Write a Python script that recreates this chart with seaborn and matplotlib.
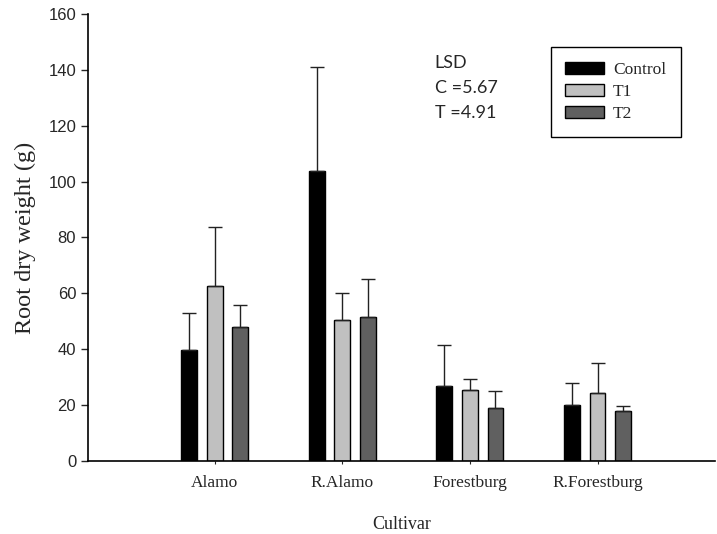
import numpy as np
import pandas as pd
import matplotlib
matplotlib.use('Agg')
import matplotlib.pyplot as plt
import seaborn as sns

# values
cultivars = ['Alamo', 'R.Alamo', 'Forestburg', 'R.Forestburg']
treatments = ['Control', 'T1', 'T2']
control_mean = [39.7, 103.8, 27.0, 19.9]
t1_mean = [62.7, 50.5, 25.4, 24.2]
t2_mean = [47.8, 51.6, 18.8, 18.0]
control_err = [13.4, 37.3, 14.6, 7.9]
t1_err = [20.9, 9.6, 3.8, 11.0]
t2_err = [8.0, 13.5, 6.1, 1.8]
lsd_text = 'LSD\nC =5.67\nT =4.91'

means = [control_mean, t1_mean, t2_mean]
errs = [control_err, t1_err, t2_err]
df = pd.DataFrame({
    'Cultivar': np.tile(cultivars, len(treatments)),
    'Treatment': np.repeat(treatments, len(cultivars)),
    'Weight': np.concatenate(means),
})

sns.set_style('ticks')
plt.rcParams['font.family'] = ['Liberation Serif', 'DejaVu Serif']

palette = {'Control': '#000000', 'T1': '#c0c0c0', 'T2': '#606060'}

fig = plt.figure(figsize=(7.17, 5.34), dpi=100)
ax = fig.add_axes([0.1227, 0.1367, 0.8743, 0.8371])

sns.barplot(data=df, x='Cultivar', y='Weight', hue='Treatment', order=cultivars,
            hue_order=treatments, palette=palette, width=0.6, gap=0.375,
            edgecolor='black', linewidth=1.0, saturation=1, ax=ax, legend=False)

# upper error bars only
for cont, err in zip(ax.containers, errs):
    xs = [b.get_x() + b.get_width() / 2 for b in cont]
    hs = [b.get_height() for b in cont]
    ax.errorbar(xs, hs, yerr=[np.zeros(len(err)), err], fmt='none',
                ecolor='#222222', elinewidth=1.0, capsize=5, capthick=1.0, zorder=1)

ax.set_xlim(-0.995, 3.92)
ax.set_ylim(0, 160)
ax.set_yticks(range(0, 161, 20))
ax.set_yticklabels([str(v) for v in range(0, 161, 20)], family='Liberation Sans', fontsize=12)
ax.tick_params(axis='y', direction='out', length=5, width=1)
ax.tick_params(axis='x', direction='out', length=2, width=0.8, labelsize=12.5, pad=8)
sns.despine(ax=ax)
for s in ['left', 'bottom']:
    ax.spines[s].set_linewidth(1.2)
    ax.spines[s].set_color('black')

ax.set_xlabel('Cultivar', fontsize=13, labelpad=18)
ax.set_ylabel('Root dry weight (g)', fontsize=17.5, labelpad=9)

ax.text(0.553, 0.908, lsd_text, transform=ax.transAxes, va='top', ha='left',
        family='Lato', fontsize=13, linespacing=1.7)

handles = [plt.Rectangle((0, 0), 1, 1, facecolor=palette[t], edgecolor='black', lw=1.0)
           for t in treatments]
leg = ax.legend(handles, treatments, loc='upper left', bbox_to_anchor=(0.738, 0.926),
                borderaxespad=0, fontsize=12.5, handlelength=2.2, handleheight=0.7,
                handletextpad=0.55, labelspacing=0.35, borderpad=0.85, fancybox=False,
                framealpha=1, edgecolor='black')
leg.get_frame().set_linewidth(1.0)

fig.savefig('out.png', dpi=100)
